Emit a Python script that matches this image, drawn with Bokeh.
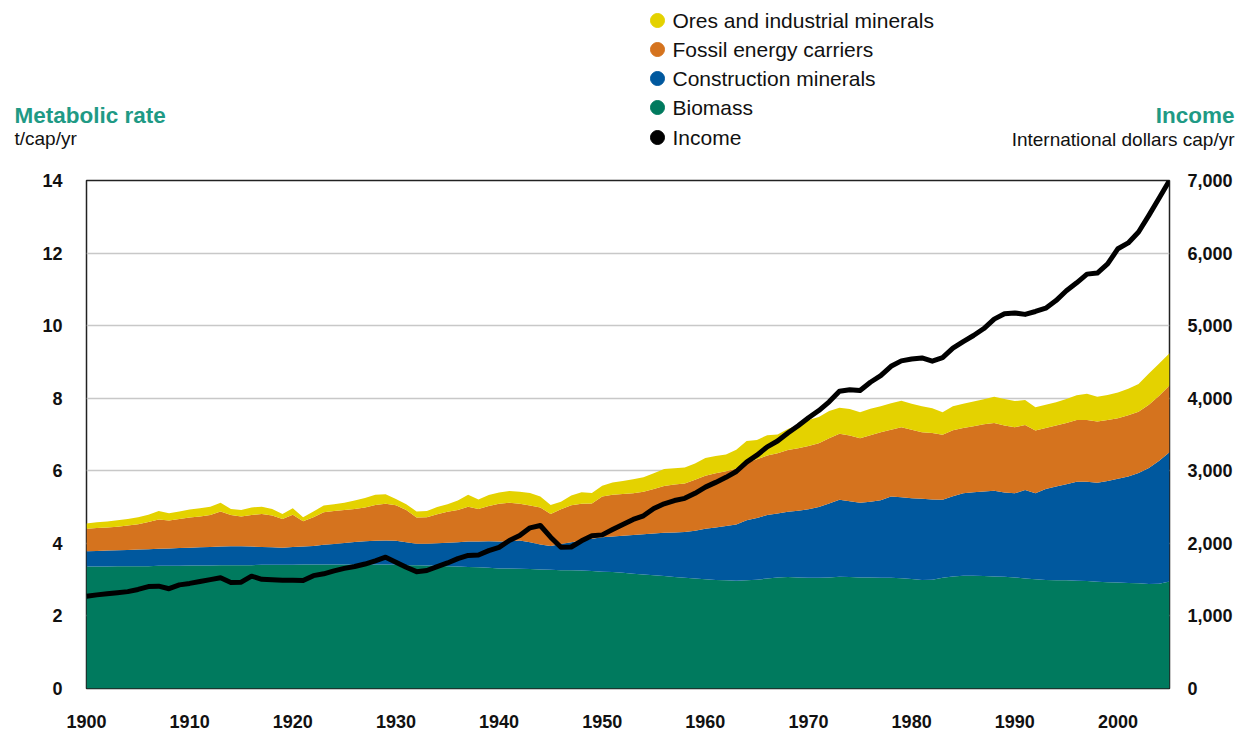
import numpy as np
from bokeh.plotting import figure
from bokeh.layouts import column
from bokeh.models import (Range1d, LinearAxis, FixedTicker, NumeralTickFormatter,
                          ColumnDataSource)
from bokeh.core.properties import value
from bokeh.embed import file_html
from bokeh.resources import INLINE

years = list(range(1900, 2006))

# upper edge of each stacked layer (t/cap/yr)
biomass_top = [3.36, 3.36, 3.36, 3.37, 3.37, 3.37, 3.37, 3.38, 3.38, 3.38, 3.39,
               3.39, 3.39, 3.40, 3.40, 3.40, 3.40, 3.41, 3.41, 3.41, 3.41,
               3.42, 3.42, 3.42, 3.42, 3.42, 3.42, 3.42, 3.42, 3.42, 3.41,
               3.40, 3.40, 3.39, 3.38, 3.37, 3.36, 3.35, 3.34, 3.33, 3.31,
               3.31, 3.30, 3.29, 3.28, 3.27, 3.26, 3.26, 3.25, 3.24, 3.22,
               3.21, 3.19, 3.16, 3.14, 3.12, 3.10, 3.07, 3.05, 3.03, 3.01,
               2.99, 2.98, 2.97, 2.98, 3.00, 3.03, 3.06, 3.07, 3.06, 3.05,
               3.05, 3.06, 3.08, 3.07, 3.06, 3.06, 3.05, 3.05, 3.04, 3.02,
               2.99, 3.00, 3.05, 3.09, 3.11, 3.11, 3.10, 3.09, 3.08, 3.06,
               3.03, 3.01, 2.99, 2.98, 2.98, 2.97, 2.96, 2.94, 2.93, 2.92,
               2.91, 2.90, 2.88, 2.89, 2.95]

construction_top = [3.78, 3.79, 3.80, 3.81, 3.82, 3.83, 3.84, 3.85, 3.86, 3.87, 3.88,
                    3.89, 3.90, 3.91, 3.92, 3.92, 3.91, 3.90, 3.89, 3.88, 3.90,
                    3.91, 3.93, 3.96, 3.98, 4.01, 4.04, 4.06, 4.07, 4.08, 4.07,
                    4.03, 3.99, 3.99, 4.00, 4.02, 4.03, 4.05, 4.05, 4.06, 4.05,
                    4.06, 4.08, 4.03, 3.97, 3.93, 3.98, 4.03, 4.08, 4.13, 4.17,
                    4.19, 4.21, 4.23, 4.25, 4.27, 4.29, 4.30, 4.31, 4.35, 4.40,
                    4.44, 4.48, 4.52, 4.64, 4.70, 4.78, 4.82, 4.87, 4.90, 4.94,
                    5.00, 5.10, 5.20, 5.16, 5.12, 5.15, 5.19, 5.29, 5.27, 5.24,
                    5.23, 5.21, 5.20, 5.30, 5.38, 5.41, 5.43, 5.45, 5.40, 5.38,
                    5.47, 5.38, 5.50, 5.57, 5.63, 5.70, 5.70, 5.67, 5.72, 5.78,
                    5.84, 5.94, 6.08, 6.28, 6.51]

fossil_top = [4.40, 4.42, 4.44, 4.46, 4.49, 4.53, 4.59, 4.66, 4.63, 4.67, 4.71,
              4.74, 4.78, 4.88, 4.78, 4.74, 4.78, 4.81, 4.77, 4.67, 4.79,
              4.61, 4.72, 4.86, 4.89, 4.92, 4.95, 4.99, 5.06, 5.09, 5.05,
              4.92, 4.71, 4.72, 4.80, 4.87, 4.92, 5.01, 4.95, 5.03, 5.09,
              5.12, 5.09, 5.04, 4.99, 4.81, 4.94, 5.05, 5.09, 5.10, 5.29,
              5.34, 5.36, 5.38, 5.42, 5.50, 5.58, 5.62, 5.65, 5.75, 5.86,
              5.93, 5.99, 6.06, 6.22, 6.32, 6.42, 6.48, 6.57, 6.62, 6.68,
              6.76, 6.90, 7.02, 6.97, 6.90, 6.98, 7.06, 7.13, 7.20, 7.13,
              7.06, 7.04, 6.99, 7.12, 7.18, 7.23, 7.28, 7.32, 7.25, 7.20,
              7.26, 7.11, 7.18, 7.25, 7.32, 7.40, 7.40, 7.36, 7.40, 7.45,
              7.53, 7.63, 7.82, 8.07, 8.35]

ores_top = [4.55, 4.58, 4.60, 4.64, 4.67, 4.72, 4.79, 4.89, 4.83, 4.88, 4.93,
            4.97, 5.01, 5.12, 4.95, 4.92, 4.99, 5.01, 4.95, 4.81, 4.97,
            4.72, 4.88, 5.04, 5.08, 5.12, 5.18, 5.25, 5.34, 5.35, 5.22,
            5.08, 4.88, 4.89, 5.00, 5.08, 5.18, 5.34, 5.21, 5.33, 5.40,
            5.44, 5.42, 5.39, 5.29, 5.06, 5.15, 5.32, 5.41, 5.39, 5.59,
            5.68, 5.72, 5.77, 5.82, 5.93, 6.05, 6.07, 6.09, 6.20, 6.35,
            6.41, 6.45, 6.58, 6.82, 6.85, 6.98, 7.00, 7.15, 7.27, 7.40,
            7.48, 7.65, 7.74, 7.70, 7.61, 7.71, 7.78, 7.86, 7.93, 7.85,
            7.78, 7.72, 7.61, 7.78, 7.85, 7.91, 7.97, 8.04, 7.98, 7.92,
            7.95, 7.75, 7.82, 7.89, 7.98, 8.08, 8.12, 8.04, 8.09, 8.16,
            8.26, 8.39, 8.68, 8.96, 9.24]

# income, international dollars per capita per year
income = [1270, 1290, 1305, 1320, 1335, 1365, 1405, 1410, 1375, 1428, 1448,
          1475, 1500, 1525, 1460, 1465, 1548, 1505, 1497, 1490, 1490,
          1488, 1555, 1580, 1620, 1655, 1681, 1715, 1760, 1809, 1741,
          1670, 1610, 1626, 1680, 1730, 1790, 1833, 1840, 1900, 1945,
          2040, 2108, 2214, 2246, 2085, 1947, 1950, 2035, 2105, 2117,
          2190, 2260, 2330, 2380, 2480, 2545, 2590, 2620, 2690, 2775,
          2840, 2910, 2990, 3120, 3215, 3330, 3410, 3520, 3620, 3730,
          3830, 3950, 4097, 4116, 4106, 4220, 4310, 4440, 4515, 4540,
          4555, 4510, 4560, 4690, 4780, 4864, 4960, 5090, 5165, 5175,
          5155, 5195, 5240, 5345, 5480, 5590, 5710, 5725, 5850, 6060,
          6140, 6290, 6520, 6760, 7000]

series = ["Biomass", "Construction minerals", "Fossil energy carriers",
          "Ores and industrial minerals"]
colors = ["#007a5e", "#00589e", "#d5731e", "#e4d200"]
legend_labels = ["Ores and industrial minerals", "Fossil energy carriers",
                 "Construction minerals", "Biomass", "Income"]
legend_colors = ["#e4d200", "#d5731e", "#00589e", "#007a5e", "#000000"]
left_ticks = [0, 2, 4, 6, 8, 10, 12, 14]
right_ticks = [0, 1000, 2000, 3000, 4000, 5000, 6000, 7000]
year_ticks = [1900, 1910, 1920, 1930, 1940, 1950, 1960, 1970, 1980, 1990, 2000]

tops = np.array([biomass_top, construction_top, fossil_top, ores_top])
layers = np.diff(np.vstack([np.zeros(len(years)), tops]), axis=0)
data = {"year": years, "income": income}
for name, vals in zip(series, layers):
    data[name] = vals
src = ColumnDataSource(data)

FONT = "Liberation Sans"
TEAL = "#1f9a85"
W = 1235
HEAD_H = 168
FL, FR = 86, 1172  # chart frame edges in page pixels

# ---------- header: axis titles and legend (pixel coordinates) ----------
head = figure(width=W, height=HEAD_H, output_backend="svg", toolbar_location=None,
              x_range=Range1d(0, W), y_range=Range1d(HEAD_H, 0),
              x_axis_location=None, y_axis_location=None,
              min_border=0, outline_line_color=None)
head.grid.grid_line_color = None

leg_y = [20, 49, 78, 107, 137]
head.scatter(x=[657] * len(leg_y), y=leg_y, size=14, color=legend_colors,
             marker="circle")
head.text(x=[672] * len(leg_y), y=leg_y, text=legend_labels,
          text_font=value(FONT), text_font_size="21px", text_color="#111111",
          text_baseline="middle", text_align="left")

head.text(x=[14], y=[115], text=["Metabolic rate"], text_font=value(FONT),
          text_font_size="22.5px", text_font_style="bold", text_color=TEAL,
          text_baseline="middle")
head.text(x=[14], y=[138], text=["t/cap/yr"], text_font=value(FONT),
          text_font_size="19px", text_color="#111111", text_baseline="middle")
head.text(x=[1234], y=[115], text=["Income"], text_font=value(FONT),
          text_font_size="22.5px", text_font_style="bold", text_color=TEAL,
          text_baseline="middle", text_align="right")
head.text(x=[1234], y=[139], text=["International dollars cap/yr"],
          text_font=value(FONT), text_font_size="19px", text_color="#111111",
          text_baseline="middle", text_align="right")

# ---------- main chart ----------
p = figure(width=W, height=567, output_backend="svg", toolbar_location=None,
           x_range=Range1d(1900, 2005), y_range=Range1d(0, 14),
           min_border_left=FL, min_border_right=W - FR, min_border_top=12,
           min_border_bottom=47)
p.extra_y_ranges = {"income": Range1d(0, 7000)}

# keep the header's frame independent of the chart's frame
for fig in (head, p):
    if "frame_align" in fig.properties():
        fig.frame_align = False

p.varea_stack(stackers=series, x="year", color=colors, source=src)
p.line(x="year", y="income", y_range_name="income", source=src,
       line_color="black", line_width=5, line_join="round")

p.outline_line_color = "#222222"
p.outline_line_width = 1.5
p.xgrid.grid_line_color = None
p.ygrid.grid_line_color = "#c8c8c8"
p.ygrid.grid_line_width = 1.5
p.ygrid.ticker = FixedTicker(ticks=left_ticks)


def style_axis(ax, standoff):
    ax.axis_line_color = None
    ax.major_tick_line_color = None
    ax.minor_tick_line_color = None
    ax.major_tick_out = 0
    ax.major_tick_in = 0
    ax.minor_tick_out = 0
    ax.major_label_standoff = standoff
    ax.major_label_text_font = FONT
    ax.major_label_text_font_style = "bold"
    ax.major_label_text_font_size = "18px"
    ax.major_label_text_color = "#111111"


p.yaxis.ticker = FixedTicker(ticks=left_ticks)
style_axis(p.yaxis[0], 24)
p.xaxis.ticker = FixedTicker(ticks=year_ticks)
style_axis(p.xaxis[0], 26)

raxis = LinearAxis(y_range_name="income", ticker=FixedTicker(ticks=right_ticks),
                   formatter=NumeralTickFormatter(format="0,0"))
style_axis(raxis, 18)
p.add_layout(raxis, "right")

layout = column(head, p, spacing=0)
open("out.html", "w").write(file_html(layout, INLINE))
